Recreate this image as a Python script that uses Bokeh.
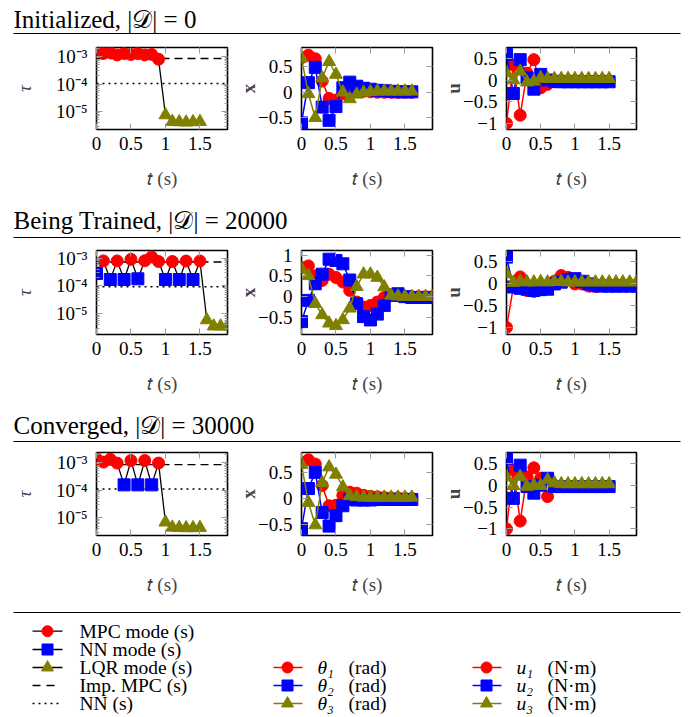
from bokeh.plotting import figure
from bokeh.models import Range1d, FixedTicker, LinearAxis, LogAxis, Span
from bokeh.layouts import column, row
from bokeh.embed import file_html
from bokeh.resources import INLINE
from bokeh.core.properties import value

# ---------------- data ----------------
TITLES = ["Initialized, |𝒟| = 0", "Being Trained, |𝒟| = 20000", "Converged, |𝒟| = 30000"]

T16 = [0.0, 0.1, 0.2, 0.3, 0.4, 0.5, 0.6, 0.7, 0.8, 0.9, 1.0, 1.1, 1.2, 1.3, 1.4, 1.5]
T17 = [0.0, 0.1, 0.2, 0.3, 0.4, 0.5, 0.6, 0.7, 0.8, 0.9, 1.0, 1.1, 1.2, 1.3, 1.4, 1.5, 1.6]
T20 = [0.0, 0.1, 0.2, 0.3, 0.4, 0.5, 0.6, 0.7, 0.8, 0.9, 1.0, 1.1, 1.2, 1.3, 1.4, 1.5,
       1.6, 1.7, 1.8, 1.9]

# Row 1: Initialized
tau_r1 = [1.5e-3, 1.3e-3, 1.4e-3, 1.15e-3, 1.3e-3, 1.2e-3, 1.3e-3, 1.15e-3, 1.2e-3, 8.0e-4,
          7.5e-6, 4.3e-6, 4.2e-6, 4.1e-6, 4.2e-6, 4.3e-6]
mode_r1 = ["MPC", "MPC", "MPC", "MPC", "MPC", "MPC", "MPC", "MPC", "MPC", "MPC",
           "LQR", "LQR", "LQR", "LQR", "LQR", "LQR"]
imp_r1, nn_r1 = 8.5e-4, 1.05e-4
th1_r1 = [0.68, 0.73, 0.66, 0.22, -0.12, -0.15, -0.03, 0.04, 0.04, 0.02, 0.01, 0.0, 0.0, 0.0, 0.0, 0.0, 0.0]
th2_r1 = [-0.6, 0.19, 0.49, -0.29, -0.55, -0.28, 0.09, 0.2, 0.12, 0.08, 0.06, 0.04, 0.03, 0.02, 0.01, 0.01, 0.01]
th3_r1 = [0.67, -0.03, -0.5, 0.28, 0.6, 0.35, 0.0, -0.13, -0.04, 0.0, 0.01, 0.02, 0.02, 0.02, 0.02, 0.02, 0.02]
u1_r1 = [-1.0, 0.35, -0.81, 0.16, 0.47, -0.18, -0.1, -0.04, -0.02, -0.02, -0.02, -0.02, -0.02, -0.02, -0.02, -0.02]
u2_r1 = [0.59, -0.31, 0.47, 0.05, -0.21, 0.13, 0.0, -0.03, -0.04, -0.04, -0.04, -0.04, -0.04, -0.04, -0.04, -0.04]
u3_r1 = [0.16, 0.0, 0.2, -0.05, -0.03, 0.05, 0.03, 0.03, 0.03, 0.03, 0.03, 0.03, 0.03, 0.03, 0.03, 0.03]

# Row 2: Being trained
tau_r2 = [2.8e-4, 7.9e-4, 1.7e-4, 7.9e-4, 1.7e-4, 9.0e-4, 1.8e-4, 8.0e-4, 1.1e-3, 7.5e-4,
          1.7e-4, 7.5e-4, 1.7e-4, 7.8e-4, 1.7e-4, 7.8e-4, 6.0e-6, 3.6e-6, 3.6e-6, 3.6e-6]
mode_r2 = ["NN", "MPC", "NN", "MPC", "NN", "MPC", "NN", "MPC", "MPC", "MPC",
           "NN", "MPC", "NN", "MPC", "NN", "MPC", "LQR", "LQR", "LQR", "LQR"]
imp_r2, nn_r2 = 7.2e-4, 9.3e-5
th1_r2 = [0.7, 0.74, 0.5, 0.39, 0.54, 0.46, 0.35, 0.15, -0.13, -0.25, -0.21, -0.13, -0.02, 0.05, 0.02,
          0.0, 0.0, 0.0, 0.0, 0.0]
th2_r2 = [-0.6, -0.09, 0.31, 0.54, 0.9, 0.87, 0.79, 0.4, -0.17, -0.48, -0.56, -0.42, -0.21, 0.03, 0.07,
          0.0, -0.02, -0.02, -0.02, -0.02]
th3_r2 = [0.66, 0.5, -0.17, -0.44, -0.64, -0.7, -0.56, -0.28, 0.24, 0.54, 0.54, 0.46, 0.23, 0.03, 0.01,
          0.0, 0.0, 0.0, 0.0, 0.0]
u1_r2 = [-0.99, -0.07, 0.16, -0.15, -0.17, -0.1, -0.1, 0.06, 0.19, 0.15, 0.0, 0.0, -0.05, -0.06, -0.04,
         -0.03, -0.03, -0.03, -0.03, -0.03]
u2_r2 = [0.61, -0.07, -0.1, -0.12, -0.15, -0.13, -0.12, 0.0, 0.04, 0.1, 0.12, 0.06, 0.0, -0.04, -0.05,
         -0.05, -0.05, -0.05, -0.05, -0.05]
u3_r2 = [0.23, 0.03, 0.06, 0.04, 0.04, 0.05, 0.04, 0.05, 0.05, 0.04, 0.04, 0.04, 0.04, 0.04, 0.04,
         0.04, 0.04, 0.04, 0.04, 0.04]

# Row 3: Converged
tau_r3 = [1.36e-3, 1.03e-3, 1.3e-3, 9.5e-4, 1.55e-4, 1.17e-3, 1.55e-4, 1.17e-3, 1.55e-4, 9.5e-4,
          6.9e-6, 4.5e-6, 4.4e-6, 4.3e-6, 4.3e-6, 4.4e-6]
mode_r3 = ["MPC", "MPC", "MPC", "MPC", "NN", "MPC", "NN", "MPC", "NN", "MPC",
           "LQR", "LQR", "LQR", "LQR", "LQR", "LQR"]
imp_r3, nn_r3 = 8.3e-4, 1.1e-4
th1_r3 = [0.68, 0.74, 0.66, 0.25, -0.14, -0.13, 0.06, 0.12, 0.1, 0.06, 0.04, 0.03, 0.02, 0.01, 0.01, 0.0, 0.0]
th2_r3 = [-0.58, 0.19, 0.5, -0.27, -0.53, -0.33, -0.14, -0.02, -0.03, -0.03, -0.03, -0.02, -0.02, -0.02,
          -0.02, -0.02, -0.02]
th3_r3 = [0.65, -0.08, -0.51, 0.3, 0.6, 0.46, 0.22, 0.05, 0.03, 0.02, 0.02, 0.02, 0.02, 0.02, 0.02, 0.02, 0.02]
u1_r3 = [-1.0, 0.35, -0.82, 0.19, 0.4, 0.16, -0.26, 0.0, -0.02, -0.02, -0.02, -0.02, -0.02, -0.02, -0.02, -0.02]
u2_r3 = [0.61, -0.3, 0.46, -0.03, -0.18, 0.0, 0.16, -0.03, -0.03, -0.03, -0.03, -0.03, -0.03, -0.03, -0.03, -0.03]
u3_r3 = [0.19, -0.01, 0.2, -0.03, 0.0, -0.01, 0.12, 0.05, 0.03, 0.03, 0.03, 0.03, 0.03, 0.03, 0.03, 0.03]

X_TICKS = [0.0, 0.5, 1.0, 1.5]
X_TICK_LABELS = ["0", "0.5", "1", "1.5"]
TAU_TICKS = [1e-5, 1e-4, 1e-3]
TAU_TICK_LABELS = ["10⁻⁵", "10⁻⁴", "10⁻³"]
X_STATE_TICKS = [[-0.5, 0.0, 0.5], [-0.5, 0.0, 0.5, 1.0], [-0.5, 0.0, 0.5]]
X_STATE_LABELS = [["−0.5", "0", "0.5"], ["−0.5", "0", "0.5", "1"], ["−0.5", "0", "0.5"]]
U_TICKS = [-1.0, -0.5, 0.0, 0.5]
U_TICK_LABELS = ["−1", "−0.5", "0", "0.5"]

# ---------------- style ----------------
SERIF = "Liberation Serif"
RED, BLUE, OLIVE = "#ff0000", "#0000ff", "#808000"
TICK_GRAY = "#9a9a9a"
MODE_STYLE = {"MPC": ("circle", RED, 12), "NN": ("square", BLUE, 12), "LQR": ("triangle", OLIVE, 13)}
SERIES_STYLE = [("circle", RED, 12), ("square", BLUE, 12), ("triangle", OLIVE, 13)]

COLS = [(235, 96, 8), (205, 66, 8), (206, 65, 10)]   # width, left border, right border
ROWS = [(174, 13, 79), (174, 12, 78), (160, 10, 67)]  # height, top border, bottom border
TAU_LIMS = [(-5.65, -2.67), (-5.74, -2.73), (-5.64, -2.64)]
X_LIMS = [(-0.73, 0.88), (-0.91, 1.11), (-0.71, 0.88)]
U_LIMS = [(-1.14, 0.75), (-1.15, 0.76), (-1.15, 0.75)]
MINOR_LOG = [k * 10.0 ** e for e in (-6, -5, -4, -3) for k in range(2, 10)]
TICK_FS = "19px"


def style_axis(ax, ticks, labels, show=True, minor=None):
    ax.ticker = FixedTicker(ticks=ticks, minor_ticks=minor or [])
    ax.axis_line_color = None
    ax.major_tick_in = 6
    ax.major_tick_out = 0
    ax.minor_tick_in = 3
    ax.minor_tick_out = 0
    ax.major_tick_line_color = TICK_GRAY
    ax.minor_tick_line_color = TICK_GRAY
    ax.major_tick_line_width = 1
    ax.minor_tick_line_width = 1
    if show:
        ax.major_label_overrides = {t: l for t, l in zip(ticks, labels)}
        ax.major_label_text_font = SERIF
        ax.major_label_text_font_size = TICK_FS
        ax.major_label_text_color = "black"
    else:
        ax.major_label_overrides = {t: "" for t in ticks}
        ax.major_label_text_font_size = "0px"
        ax.major_label_standoff = 0


def base_fig(ci, ri, y_range, log=False):
    w, l, r = COLS[ci]
    h, t, b = ROWS[ri]
    p = figure(width=w, height=h, x_range=Range1d(0, 1.9), y_range=y_range,
               y_axis_type="log" if log else "linear",
               output_backend="svg", toolbar_location=None,
               min_border_left=l, min_border_right=r, min_border_top=t, min_border_bottom=b)
    p.xgrid.visible = False
    p.ygrid.visible = False
    p.outline_line_color = "black"
    p.outline_line_width = 1.6
    p.outline_line_alpha = 1.0
    p.background_fill_color = "white"
    p.border_fill_color = "white"
    xa = p.xaxis[0]
    style_axis(xa, X_TICKS, X_TICK_LABELS)
    xa.major_label_standoff = 7
    xa.axis_label = "𝑡 (s)"
    xa.axis_label_text_font = SERIF
    xa.axis_label_text_font_size = "19px"
    xa.axis_label_text_font_style = "normal"
    xa.axis_label_standoff = 15
    top = LinearAxis()
    style_axis(top, X_TICKS, X_TICK_LABELS, show=False)
    p.add_layout(top, "above")
    return p


def y_label(ya, text, style, standoff):
    ya.axis_label = text
    ya.axis_label_text_font = SERIF
    ya.axis_label_text_font_size = "19px"
    ya.axis_label_text_font_style = style
    ya.major_label_standoff = 9
    ya.axis_label_standoff = standoff


def tau_panel(ri, t, tau, mode, imp, nn):
    lo, hi = TAU_LIMS[ri]
    p = base_fig(0, ri, Range1d(10 ** lo, 10 ** hi), log=True)
    ya = p.yaxis[0]
    style_axis(ya, TAU_TICKS, TAU_TICK_LABELS, minor=MINOR_LOG)
    y_label(ya, "τ", "italic", 18)
    ra = LogAxis()
    style_axis(ra, TAU_TICKS, TAU_TICK_LABELS, show=False, minor=MINOR_LOG)
    p.add_layout(ra, "right")
    p.add_layout(Span(location=imp, dimension="width", line_color="black", line_width=1.3,
                      line_dash="8 5", level="underlay"))
    p.add_layout(Span(location=nn, dimension="width", line_color="black", line_width=1.5,
                      line_dash="2 4", level="underlay"))
    p.line(t, tau, line_color="black", line_width=1.3)
    for m in ["MPC", "NN", "LQR"]:
        xs = [ti for ti, mi in zip(t, mode) if mi == m]
        ys = [vi for vi, mi in zip(tau, mode) if mi == m]
        if xs:
            mk, c, s = MODE_STYLE[m]
            p.scatter(xs, ys, marker=mk, size=s, fill_color=c, line_color=c)
    return p


def series_panel(ci, ri, t, series, lims, ticks, labels, ylab):
    p = base_fig(ci, ri, Range1d(*lims))
    ya = p.yaxis[0]
    style_axis(ya, ticks, labels)
    y_label(ya, ylab, "bold", -4)
    ra = LinearAxis()
    style_axis(ra, ticks, labels, show=False)
    p.add_layout(ra, "right")
    for ys, (mk, c, s) in zip(series, SERIES_STYLE):
        p.line(t, ys, line_color=c, line_width=1.5)
        p.scatter(t, ys, marker=mk, size=s, fill_color=c, line_color=c)
    return p


def header(text, height, rule_y, mid_y):
    p = figure(width=688, height=height, x_range=Range1d(0, 688), y_range=Range1d(0, height),
               output_backend="svg", toolbar_location=None, min_border=0,
               x_axis_location=None, y_axis_location=None)
    p.grid.visible = False
    p.outline_line_color = None
    p.segment(x0=[13], y0=[rule_y], x1=[680], y1=[rule_y], line_color="black", line_width=1)
    p.text(x=[13], y=[mid_y], text=[text], text_font=value(SERIF), text_font_size="25px",
           text_baseline="middle", text_color="black")
    return p


def legend_fig():
    H = 115
    p = figure(width=688, height=H, x_range=Range1d(0, 688), y_range=Range1d(0, H),
               output_backend="svg", toolbar_location=None, min_border=0,
               x_axis_location=None, y_axis_location=None)
    p.grid.visible = False
    p.outline_line_color = None
    p.segment(x0=[13], y0=[105], x1=[680], y1=[105], line_color="black", line_width=1)
    rows_y = [86.3, 68.0, 50.0, 32.0, 14.0]
    fs = "19.5px"
    for y, (mk, c, s), txt in zip(rows_y[:3], SERIES_STYLE, ["MPC mode (s)", "NN mode (s)", "LQR mode (s)"]):
        p.segment(x0=[32], y0=[y], x1=[62], y1=[y], line_color="black", line_width=1.3)
        p.scatter([47], [y], marker=mk, size=s - 1, fill_color=c, line_color=c)
        p.text([79], [y], text=[txt], text_font=value(SERIF), text_font_size=fs, text_baseline="middle")
    p.segment(x0=[32], y0=[rows_y[3]], x1=[55], y1=[rows_y[3]], line_color="black", line_width=1.3,
              line_dash="8 6")
    p.text([79], [rows_y[3]], text=["Imp. MPC (s)"], text_font=value(SERIF), text_font_size=fs,
           text_baseline="middle")
    p.segment(x0=[32], y0=[rows_y[4]], x1=[62], y1=[rows_y[4]], line_color="black", line_width=1.5,
              line_dash="2 4")
    p.text([79], [rows_y[4]], text=["NN (s)"], text_font=value(SERIF), text_font_size=fs,
           text_baseline="middle")
    for x0, sym, unit in [(273, "θ", "(rad)"), (472, "u", "(N·m)")]:
        for k, (y, (mk, c, s)) in enumerate(zip(rows_y[2:], SERIES_STYLE)):
            p.segment(x0=[x0], y0=[y], x1=[x0 + 29], y1=[y], line_color=c, line_width=1.5)
            p.scatter([x0 + 14], [y], marker=mk, size=s - 1, fill_color=c, line_color=c)
            p.text([x0 + 44], [y], text=[sym + "₁₂₃"[k]], text_font=value(SERIF), text_font_size=fs,
                   text_font_style="italic", text_baseline="middle")
            p.text([x0 + 75], [y], text=[unit], text_font=value(SERIF), text_font_size=fs,
                   text_baseline="middle")
    return p


rows_data = [
    (T16, tau_r1, mode_r1, imp_r1, nn_r1, T17, [th1_r1, th2_r1, th3_r1], T16, [u1_r1, u2_r1, u3_r1]),
    (T20, tau_r2, mode_r2, imp_r2, nn_r2, T20, [th1_r2, th2_r2, th3_r2], T20, [u1_r2, u2_r2, u3_r2]),
    (T16, tau_r3, mode_r3, imp_r3, nn_r3, T17, [th1_r3, th2_r3, th3_r3], T16, [u1_r3, u2_r3, u3_r3]),
]
HEADERS = [(34, 1, 15), (30, 1, 18), (30, 1, 17.5)]

items = []
for ri, (tt, tau, mode, imp, nn, tx, xs, tu, us) in enumerate(rows_data):
    hh, ry, my = HEADERS[ri]
    items.append(header(TITLES[ri], hh, ry, my))
    p1 = tau_panel(ri, tt, tau, mode, imp, nn)
    p2 = series_panel(1, ri, tx, xs, X_LIMS[ri], X_STATE_TICKS[ri], X_STATE_LABELS[ri], "x")
    p3 = series_panel(2, ri, tu, us, U_LIMS[ri], U_TICKS, U_TICK_LABELS, "u")
    items.append(row(p1, p2, p3))
items.append(legend_fig())

layout = column(*items)
open("out.html", "w").write(file_html(layout, INLINE))
